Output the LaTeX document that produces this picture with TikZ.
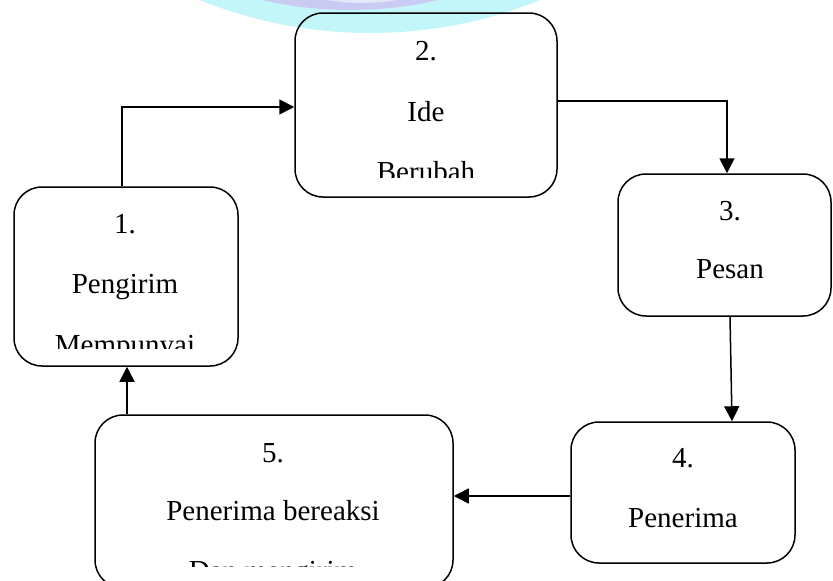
\documentclass[tikz,border=0pt]{standalone}
\usepackage{fontspec}
\setmainfont{Liberation Serif}
\usetikzlibrary{arrows.meta}
\definecolor{wmcyan}{HTML}{C2F6F9}
\definecolor{wmlav}{HTML}{C9CBF3}
\definecolor{wmwhite}{HTML}{E4E6FA}
\tikzset{
  box/.style={draw, line width=1.5pt, rounded corners=28pt, inner sep=0pt},
  lbl/.style={anchor=base, inner sep=0pt, font=\fontsize{29}{29}\selectfont},
  arr/.style={line width=1.5pt, -{Triangle[length=15pt,width=15pt]}},
}
\begin{document}
\begin{tikzpicture}[x=1pt,y=-1pt]
\useasboundingbox (0,0) rectangle (833,581);
% watermark
\begin{scope}
  \clip (0,0) rectangle (833,581);
  \fill[wmcyan] (370,-421) circle (454pt);
  \fill[wmlav] (350,-382) circle (392pt);
  \fill[wmwhite] (362,-203) circle (206pt);
\end{scope}
% boxes
\node[box, minimum width=224pt, minimum height=179pt] (b1) at (126,276.5) {};
\node[box, minimum width=262pt, minimum height=184pt] (b2) at (426,105) {};
\node[box, minimum width=213pt, minimum height=142pt] (b3) at (724.5,245) {};
\node[box, minimum width=224pt, minimum height=141pt] (b4) at (683,492.5) {};
\node[box, minimum width=358pt, minimum height=173pt] (b5) at (274,501.5) {};
% texts (clipped like the original text boxes)
\begin{scope}
  \clip (14,187) rectangle (238,348);
  \node[lbl] (t1a) at (125,233) {1.};
  \node[lbl] (t1b) at (125,293) {Pengirim};
  \node[lbl] (t1c) at (125,354) {Mempunyai};
\end{scope}
\begin{scope}
  \clip (295,13) rectangle (557,177);
  \node[lbl] (t2a) at (426,60) {2.};
  \node[lbl] (t2b) at (426,121) {Ide};
  \node[lbl] (t2c) at (426,181) {Berubah};
\end{scope}
\begin{scope}
  \clip (618,174) rectangle (831,316);
  \node[lbl] (t3a) at (730,220) {3.};
  \node[lbl] (t3b) at (730,278) {Pesan};
\end{scope}
\begin{scope}
  \clip (571,422) rectangle (795,563);
  \node[lbl] (t4a) at (683,467) {4.};
  \node[lbl] (t4b) at (683,527) {Penerima};
\end{scope}
\begin{scope}
  \clip (95,415) rectangle (453,566);
  \node[lbl] (t5a) at (273,462) {5.};
  \node[lbl] (t5b) at (273,520) {Penerima bereaksi};
  \node[lbl] (t5c) at (273,580) {Dan mengirim};
\end{scope}
% connectors
\draw[arr] ([xshift=-4pt]b1.north) |- ([yshift=-2pt]b2.west);
\draw[arr] ([yshift=4pt]b2.east) -| ([xshift=2.5pt]b3.north);
\draw[arr] ([xshift=5.5pt]b3.south) -- ([xshift=49pt]b4.north);
\draw[arr] ([yshift=-3.5pt]b4.west) -- ([yshift=-3.5pt]b4.west -| b5.east);
\draw[arr] ([xshift=-147pt]b5.north) -- ([xshift=-147pt]b5.north |- b1.south);
\end{tikzpicture}
\end{document}
